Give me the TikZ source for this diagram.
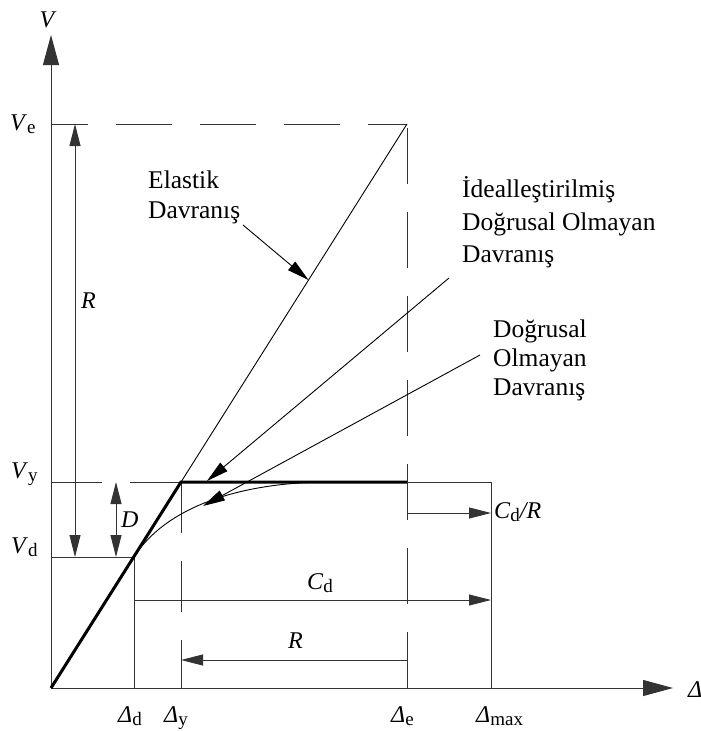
\documentclass[tikz,border=0pt]{standalone}
\usepackage{fontspec}
\setmainfont{Liberation Serif}
\usetikzlibrary{arrows.meta}
\newcommand{\lbl}[2]{\textit{#1}\raisebox{-0.3ex}{\fontsize{19}{19}\selectfont #2}}
\begin{document}
\begin{tikzpicture}[x=1pt,y=-1pt,
  thinline/.style={line width=1pt,black!80},
  curveline/.style={line width=0.9pt,black},
  thickline/.style={line width=3pt,black,line join=miter},
  dimarrow/.style={thinline,-{Triangle[length=22pt,width=11pt]}},
  dimboth/.style={thinline,{Triangle[length=22pt,width=11pt]}-{Triangle[length=22pt,width=11pt]}},
  leader/.style={curveline,-{Triangle[length=22pt,width=11pt]}},
  axis/.style={thinline,-{Triangle[length=30pt,width=16pt]}},
  dashA/.style={thinline,dash pattern=on 56pt off 28pt},
  dashB/.style={thinline,dash pattern=on 51pt off 28pt},
  lab/.style={inner sep=0pt,anchor=base west,font=\fontsize{24}{28}\selectfont},
  ann/.style={inner sep=0pt,anchor=base west,font=\fontsize{25.5}{30}\selectfont}]
\useasboundingbox (0,0) rectangle (701,731);
% key coordinates
\coordinate (O) at (51,688);
\coordinate (Ytip) at (51,35);
\coordinate (Xtip) at (673,688);
\coordinate (VeL) at (51,124);
\coordinate (E) at (407,124);
\coordinate (VyL) at (51,482);
\coordinate (Y) at (181,482);
\coordinate (VyE) at (407,482);
\coordinate (VyM) at (491,482);
\coordinate (VdL) at (51,557);
\coordinate (D) at (134,557);
\coordinate (Dd) at (134,688);
\coordinate (Dy) at (181,688);
\coordinate (De) at (407,688);
\coordinate (Dm) at (491,688);
\coordinate (CurveEnd) at (330,482);
% axes
\draw[axis] (O) -- (Ytip);
\draw[axis] (O) -- (Xtip);
% dashed guides
\draw[dashA,dash phase=19pt] (VeL) -- (E);
\draw[dashA] (De) -- (E);
\draw[dashB] (VyL) -- (Y);
\draw[dashB] (Y) -- (Dy);
% solid guides
\draw[thinline] (VdL) -- (D) -- (Dd);
\draw[thinline] (VyE) -- (VyM) -- (Dm);
% elastic line
\draw[curveline] (O) -- (E);
% nonlinear curve
\draw[curveline] (D) .. controls (164,509.5) and (235,482) .. (CurveEnd);
% idealised bilinear
\draw[thickline] (O) -- (Y) -- (VyE);
% dimension arrows
\coordinate (Rt) at (75,124); \coordinate (Rb) at (75,557);
\draw[dimboth] (Rb) -- (Rt);
\coordinate (Dt) at (116,482); \coordinate (Db) at (116,557);
\draw[dimboth] (Db) -- (Dt);
\coordinate (Cda) at (134,600); \coordinate (Cdb) at (491,600);
\draw[dimarrow] (Cda) -- (Cdb);
\coordinate (Ra) at (407,660); \coordinate (Rb2) at (181,660);
\draw[dimarrow] (Ra) -- (Rb2);
\coordinate (CRa) at (407,513); \coordinate (CRb) at (491,513);
\draw[dimarrow] (CRa) -- (CRb);
% leaders
\coordinate (L1a) at (243,225); \coordinate (L1b) at (308.5,280);
\draw[leader] (L1a) -- (L1b);
\coordinate (L2a) at (449,278); \coordinate (L2b) at (207,481);
\draw[leader] (L2a) -- (L2b);
\coordinate (L3a) at (480,355); \coordinate (L3b) at (203,506);
\draw[leader] (L3a) -- (L3b);
% labels
\node[lab,anchor=base] (lV) at (48,27) {\textit{V}};
\node[lab] (lVe) at (10,130) {\lbl{V}{e}};
\node[lab] (lVy) at (11,478) {\lbl{V}{y}};
\node[lab] (lVd) at (11,553) {\lbl{V}{d}};
\node[lab] (lR1) at (81,308) {\textit{R}};
\node[lab] (lD) at (121,527) {\textit{D}};
\node[lab] (lCd) at (307,589) {\lbl{C}{d}};
\node[lab] (lR2) at (288,648) {\textit{R}};
\node[lab] (lCdR) at (494,518) {\lbl{C}{d}\textit{/R}};
\node[lab] (lDd) at (118,722) {\lbl{Δ}{d}};
\node[lab] (lDy) at (164,722) {\lbl{Δ}{y}};
\node[lab] (lDe) at (391,722) {\lbl{Δ}{e}};
\node[lab] (lDm) at (476,722) {\lbl{Δ}{max}};
\node[lab] (lDx) at (688,697) {\textit{Δ}};
\node[ann] (e1) at (148,188) {Elastik};
\node[ann] (e2) at (148,218) {Davranış};
\node[ann] (i1) at (462,197) {İdealleştirilmiş};
\node[ann] (i2) at (462,230) {Doğrusal Olmayan};
\node[ann] (i3) at (462,262) {Davranış};
\node[ann] (n1) at (493,337) {Doğrusal};
\node[ann] (n2) at (493,366) {Olmayan};
\node[ann] (n3) at (493,395) {Davranış};
\end{tikzpicture}
\end{document}
